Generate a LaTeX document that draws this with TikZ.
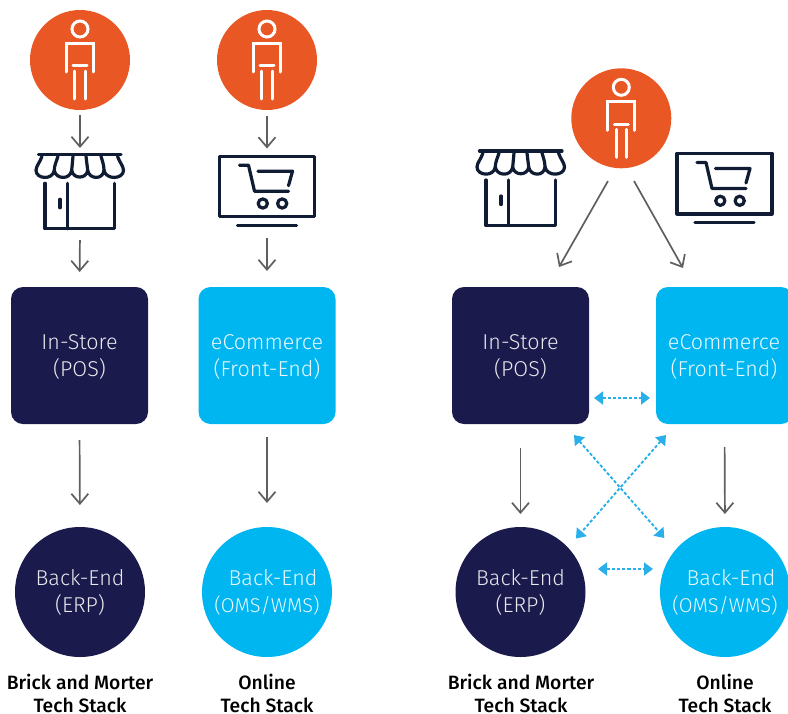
\documentclass[tikz,border=0pt]{standalone}
\usepackage{fontspec}
\setmainfont{Fira Sans Light}
\newfontfamily\titlefont{Fira Sans Medium}
\usetikzlibrary{arrows.meta,calc}
\definecolor{navy}{HTML}{1B1A4D}
\definecolor{sky}{HTML}{00B6F0}
\definecolor{flame}{HTML}{E95725}
\definecolor{ink}{HTML}{0F1C33}
\definecolor{grayline}{HTML}{5F5F5F}
\definecolor{dashblue}{HTML}{29B0EA}
\tikzset{
  x=1pt,y=-1pt,
  personnode/.style={circle,fill=flame,minimum size=100pt,inner sep=0pt,outer sep=0pt},
  iconnode/.style={inner sep=0pt,outer sep=0pt,minimum width=#1},
  stacksq/.style={rounded corners=12pt,minimum size=137pt,inner sep=0pt,outer sep=0pt},
  stackci/.style={circle,minimum size=130pt,inner sep=0pt,outer sep=0pt},
  lab/.style={font=\fontsize{21.5}{25}\selectfont,inner sep=0pt,anchor=base},
  navylab/.style={lab,text=navy!10!white},
  skylab/.style={lab,text=sky!8!white},
  skysmall/.style={skylab,font=\fontsize{20}{24}\selectfont},
  title/.style={font=\titlefont\fontsize{19.3}{23}\selectfont,text=black,inner sep=0pt,anchor=base},
  flow/.style={draw=grayline,line width=1.7pt,-{Straight Barb[length=10pt,width=17pt,line width=1.7pt]}},
  link/.style={draw=dashblue,line width=1.9pt,dash pattern=on 3.2pt off 2pt,{Triangle[length=9pt,width=13pt]}-{Triangle[length=9pt,width=13pt]}},
  iconline/.style={draw=ink,line width=3.2pt,line cap=round,line join=round},
  figline/.style={draw=white,line width=3pt,line cap=round,line join=miter}
}
\newcommand{\personicon}[2]{%
  \begin{scope}[shift={(#1,#2)}]
    \draw[figline] (0,-31) circle[radius=8];
    \draw[figline] (-13.5,12) -- (-13.5,-16.5) -- (13.5,-16.5) -- (13.5,12);
    \draw[figline] (-7,5.7) -- (7,5.7);
    \draw[figline] (-5.2,11) -- (-5.2,39);
    \draw[figline] (5.2,11) -- (5.2,39);
  \end{scope}}
\newcommand{\storeicon}[2]{%
  \begin{scope}[shift={(#1,#2)}]
    \draw[iconline] (-41.5,0) -- (41,0);
    \draw[iconline] (-38,2) .. controls (-40,8) and (-44,12) .. (-44,16)
      .. controls (-44,25) and (-27,26) .. (-25.7,16)
      .. controls (-24.5,25) and (-10,26) .. (-8.3,16)
      .. controls (-7,25) and (6.5,25) .. (7.7,16)
      .. controls (9,25) and (23,26) .. (24,16)
      .. controls (26,26) and (43.5,25) .. (43.5,16)
      .. controls (43.5,12) and (39.5,8) .. (37.5,2);
    \draw[iconline] (-22,2) .. controls (-23.5,7) and (-25.7,11) .. (-25.7,16);
    \draw[iconline] (-7,2) -- (-8.3,16);
    \draw[iconline] (6,2) -- (7.7,16);
    \draw[iconline] (21,2) .. controls (22.5,7) and (24,11) .. (24,16);
    \draw[iconline] (-35,29) -- (-35,74.5) -- (34.5,74.5) -- (34.5,29);
    \draw[iconline] (-12.5,29) -- (-12.5,74.5);
    \draw[iconline] (-20,45) -- (-20,53.5);
  \end{scope}}
\newcommand{\moniconic}[2]{%
  \begin{scope}[shift={(#1,#2)}]
    \draw[iconline] (-47.5,0) rectangle (47.5,60.5);
    \draw[iconline] (-29.5,69) -- (29.5,69);
    \draw[iconline] (-27.5,9) -- (-18.5,9) -- (-12.5,35) -- (21.5,35);
    \draw[iconline] (-9,15) -- (25.5,15) -- (21.5,29.5);
    \draw[iconline] (-4.2,47.3) circle[radius=4.6];
    \draw[iconline] (15.2,47.3) circle[radius=4.6];
  \end{scope}}
\begin{document}
\begin{tikzpicture}
\useasboundingbox (0,0) rectangle (788,713);
\begin{scope}
\clip (0,0) rectangle (788,713);

\node[personnode] (p1) at (80,60) {};
\node[personnode] (p2) at (267,60) {};
\node[personnode] (p3) at (621.3,118.3) {};
\personicon{80}{60}
\personicon{267}{60}
\personicon{621.3}{118.3}

\node[iconnode=88pt,minimum height=78pt] (s1) at (80,193) {};
\node[iconnode=96pt,minimum height=71pt] (m1) at (267,191) {};
\node[iconnode=88pt,minimum height=78pt] (s2) at (521,190) {};
\node[iconnode=96pt,minimum height=71pt] (m2) at (724.5,188.5) {};
\storeicon{80}{154.3}
\moniconic{267}{156.2}
\storeicon{521}{151}
\moniconic{724.5}{153.5}

\node[stacksq,fill=navy] (b1) at (79.5,355.5) {};
\node[stacksq,fill=sky] (b2) at (267,355.5) {};
\node[stacksq,fill=navy] (b3) at (520.5,355.5) {};
\node[stacksq,fill=sky] (b4) at (724.5,355.5) {};
\node[stackci,fill=navy] (c1) at (80,592) {};
\node[stackci,fill=sky] (c2) at (267,592) {};
\node[stackci,fill=navy] (c3) at (520.5,592) {};
\node[stackci,fill=sky] (c4) at (725,592) {};

\node[navylab] (t1a) at (79.5,349) {In-Store};
\node[navylab] (t1b) at (79.5,376) {(POS)};
\node[skylab] (t2a) at (267,349) {eCommerce};
\node[skylab] (t2b) at (267,376) {(Front-End)};
\node[navylab] (t3a) at (520.5,349) {In-Store};
\node[navylab] (t3b) at (520.5,376) {(POS)};
\node[skylab] (t4a) at (724,349) {eCommerce};
\node[skylab] (t4b) at (724,376) {(Front-End)};
\node[navylab] (t5a) at (80,585) {Back-End};
\node[navylab] (t5b) at (80,612) {(ERP)};
\node[skylab] (t6a) at (273,585) {Back-End};
\node[skysmall] (t6b) at (267,612) {(OMS/WMS)};
\node[navylab] (t7a) at (520.5,585) {Back-End};
\node[navylab] (t7b) at (520.5,612) {(ERP)};
\node[skylab] (t8a) at (731,585) {Back-End};
\node[skysmall] (t8b) at (725,612) {(OMS/WMS)};

\node[title] (h1a) at (80,689) {Brick and Morter};
\node[title] (h1b) at (80,712) {Tech Stack};
\node[title] (h2a) at (267,689) {Online};
\node[title] (h2b) at (267,712) {Tech Stack};
\node[title] (h3a) at (521,689) {Brick and Morter};
\node[title] (h3b) at (521,712) {Tech Stack};
\node[title] (h4a) at (725,689) {Online};
\node[title] (h4b) at (725,712) {Tech Stack};

\draw[flow,shorten <=5pt,shorten >=6pt] (p1.south) -- (s1.north);
\draw[flow,shorten <=6pt,shorten >=7pt] (p2.south) -- (m1.north);
\draw[flow,shorten <=8pt,shorten >=15pt] (s1.south) -- (b1.north);
\draw[flow,shorten <=11.5pt,shorten >=16pt] (m1.south) -- (b2.north);
\draw[flow,shorten <=16pt,shorten >=22pt] (b1.south) -- (c1.north);
\draw[flow,shorten <=13pt,shorten >=24pt] (b2.south) -- (c2.north);
\coordinate (d1s) at (608,181);
\coordinate (d1e) at (559,267);
\coordinate (d2s) at (634,181);
\coordinate (d2e) at (683,268);
\draw[flow] (d1s) -- (d1e);
\draw[flow] (d2s) -- (d2e);
\draw[flow,shorten <=24pt,shorten >=13pt] (b3.south) -- (c3.north);
\draw[flow,shorten <=23pt,shorten >=13pt] (b4.south) -- (c4.north);

\draw[link] ([shift={(5,-26)}]b3.south east) -- ([shift={(-6,-26)}]b4.south west);
\draw[link] ([shift={(12.5,-23)}]c3.east) -- ([shift={(-7,-23)}]c4.west);
\draw[link] ([shift={(-15,11)}]b3.south east) -- ([shift={(-14.7,-8)}]c4.north west);
\draw[link] ([shift={(10,11)}]b4.south west) -- ([shift={(9.5,-7.5)}]c3.north east);
\end{scope}
\end{tikzpicture}
\end{document}
